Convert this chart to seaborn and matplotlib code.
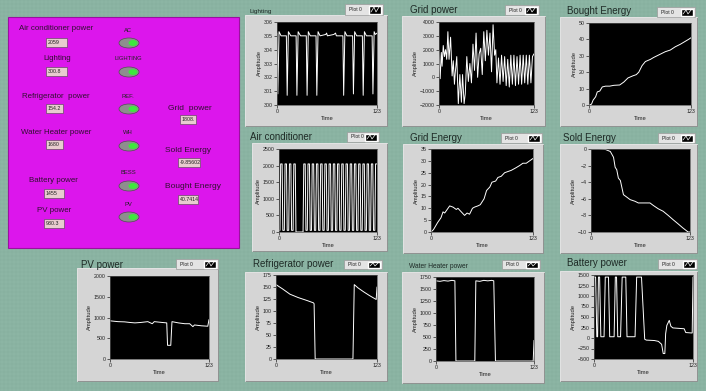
import matplotlib
matplotlib.use('Agg')
import matplotlib.pyplot as plt
import seaborn as sns
from matplotlib.patches import Rectangle, Ellipse
from matplotlib.lines import Line2D

sns.set_style("ticks")
plt.rcParams['font.family'] = ['Liberation Sans', 'DejaVu Sans']

W, H = 706, 391

# ---- data (time, amplitude) ----
lighting_t = [0, 1, 2.5, 5, 11.5, 12.5, 14, 17, 23.5, 24.5, 26, 29, 36, 37, 38.5, 41, 48, 49,
              50.5, 53, 60, 61, 62, 70, 72, 73, 81, 82, 83.5, 86, 93, 94, 95.5, 98, 105, 106,
              107.5, 110, 117, 118, 119.5, 121, 123]
lighting_v = [305.2, 300.8, 305.3, 305.0, 305.0, 300.7, 305.3, 305.0, 305.0, 300.7, 305.3, 305.0,
              305.0, 300.7, 305.3, 305.0, 305.0, 300.7, 305.3, 305.0, 305.1, 305.2, 305.0, 305.1,
              305.2, 305.0, 305.0, 300.7, 305.3, 305.0, 305.0, 300.8, 305.3, 305.0, 305.0, 300.7,
              305.3, 305.0, 305.0, 300.8, 305.3, 305.1, 305.2]

grid_t = [0, 1.5, 3, 4, 5.5, 7, 8.5, 10, 11.5, 13, 15, 17, 18.5, 20, 21, 23, 25, 27, 29, 30.5,
          32.5, 34, 36, 38, 40, 42, 44, 46, 48, 50, 52, 54, 56, 58, 60, 62, 64, 66, 68, 70, 72,
          73.5, 75, 77, 79, 81, 83, 85, 87, 89, 91, 93, 95, 97, 99, 101, 103, 105, 107, 109,
          111, 113, 115, 117, 119, 121, 123]
grid_v = [1900, -100, 1800, 800, 2300, 1500, 2000, 1300, 3300, 1300, 2900, 100, 1200, -500, 300,
          1500, -1900, 200, -1800, 200, -1900, -1200, 1500, -300, 1000, -400, 2400, 500, 3200, 0,
          1700, 2100, 200, 3300, 1200, 3400, 1600, 3200, 400, 3800, 1600, 2000, -400, 1400, -500,
          1600, -300, 1500, -600, 1300, -700, 1600, -500, 1600, -600, 1500, -500, 1600, -500,
          1600, -400, 1600, -500, 1600, -400, 1500, 1700]

bought_t = [0, 3, 5, 8, 10, 13, 16, 20, 25, 30, 37, 42, 47, 53, 57, 60, 64, 68, 74, 78, 82, 86,
            92, 98, 104, 110, 115, 120, 123]
bought_v = [0, 0.5, 3, 5, 8, 8.5, 11, 11.5, 11.5, 12, 12.2, 14, 16.5, 17.8, 18.5, 20, 24, 26.5,
            27.8, 29, 30, 31, 32.5, 33.5, 35.5, 37, 38.5, 40, 41]

ac_t = [0, 1.2, 2.1, 3.9, 4.8, 6.7, 7.6, 9.4, 10.3, 12.2, 13.1, 14.9, 15.8, 17.7, 18.6, 20.4,
        21.3, 30.2, 31.1, 32.9, 33.8, 35.5, 36.4, 38.2, 39.1, 40.8, 41.7, 43.5, 44.4, 46.1, 47.0,
        48.8, 49.7, 51.4, 52.3, 54.1, 55.0, 56.7, 57.6, 59.4, 60.3, 62.0, 62.9, 64.7, 65.6, 67.3,
        68.2, 70.0, 70.9, 72.6, 73.5, 75.3, 76.2, 77.9, 78.8, 80.6, 81.5, 83.2, 84.1, 85.9, 86.8,
        88.5, 89.4, 91.2, 92.1, 93.8, 94.7, 96.5, 97.4, 99.1, 100.0, 101.8, 102.7, 104.4, 105.3,
        107.1, 108.0, 109.7, 110.6, 112.4, 113.3, 115.0, 115.9, 117.7, 118.6, 120.3, 121.2, 123]
ac_v = [50, 50, 2050, 2050, 50, 50, 2050, 2050, 50, 50, 2050, 2050, 50, 50, 2050, 2050,
        0, 0, 2050, 2050, 50, 50, 2050, 2050, 50, 50, 2050, 2050, 50, 50, 2050,
        2050, 50, 50, 2050, 2050, 50, 50, 2050, 2050, 50, 50, 2050, 2050, 50, 50,
        2050, 2050, 50, 50, 2050, 2050, 50, 50, 2050, 2050, 50, 50, 2050, 2050, 50,
        50, 2050, 2050, 50, 50, 2050, 2050, 50, 50, 2050, 2050, 50, 50, 2050,
        2050, 50, 50, 2050, 2050, 50, 50, 2050, 2050, 50, 50, 2050, 2050]

genergy_t = [0, 3, 8, 12, 14.5, 16.5, 22.5, 26.5, 30.5, 32.5, 36.5, 40.5, 43.5, 46.5, 50, 52.5,
             56.5, 59.4, 64, 67, 71, 73.5, 78, 80.7, 84.7, 88.8, 92.8, 96.8, 102, 106.8, 110.8,
             114.9, 118.9, 123]
genergy_v = [0, 1, 4, 6, 8.5, 8, 11, 10.5, 9.5, 10, 8.5, 7, 8, 7.5, 10, 10.5, 11, 11.5, 14,
             17.5, 19, 21, 21.5, 23, 23.5, 25, 25.5, 26, 27, 28, 29, 29, 30, 31]

sold_t = [0, 10, 17.7, 24, 28, 30, 32, 34, 36.5, 40.3, 44.5, 48.6, 54.7, 58.8, 73.3, 77.4,
          83.5, 89.6, 95.9, 101.8, 108, 114, 120.6, 123]
sold_v = [0, 0, -0.05, -0.3, -1, -2.2, -2.5, -3.5, -3.8, -5.5, -5.8, -6.1, -6.3, -6.5, -6.5,
          -6.8, -7.2, -7.5, -8, -8.5, -9, -9.5, -10, -10]

pv_t = [0, 10, 18, 25, 31, 38, 47, 52.5, 55, 65, 70.5, 71.5, 75.5, 77, 85, 93, 99, 103, 105,
        113.6, 121.5, 123]
pv_v = [920, 900, 895, 880, 870, 880, 900, 850, 900, 880, 870, 330, 330, 900, 870, 850, 850,
        780, 820, 800, 790, 950]

fridge_t = [0, 8, 17, 27, 37.5, 45.6, 46.4, 47.7, 93.7, 95.3, 100, 106.7, 114, 121, 122, 123]
fridge_v = [155, 146, 135, 128, 122, 117, 115, 0, 0, 155, 148, 140, 132, 125, 124, 150]

heater_t = [0, 5, 10, 15, 20, 23.7, 25, 48.7, 50, 55, 60, 65, 70, 72.5, 74.6, 122, 123]
heater_v = [1670, 1660, 1675, 1665, 1680, 1670, 0, 0, 1670, 1660, 1680, 1670, 1680, 1670, 0, 0, 430]

battery_t = [0, 2, 3.5, 4.5, 5.5, 7, 8.5, 12.5, 14, 18, 19.5, 25, 26.5, 28, 29.5, 33, 35,
             39.5, 41, 51, 53, 59, 63, 65, 75, 80, 84, 86, 88, 89, 90.5, 93.5, 95.5, 98, 105,
             112, 114, 121, 122, 123]
battery_v = [1450, 1450, 30, 30, 1450, 1450, 30, 30, 1450, 1450, 30, 30, 1450, 1450, 30, 30,
             1450, 1450, 30, 30, 1450, 1450, -30, -50, -60, -80, -150, -370, -370, 100, 300,
             420, 280, 240, 230, 220, 130, 120, 120, 1450]

# ---- left control panel readouts ----
readout_labels = ["Air conditioner power", "Lighting", "Refrigerator  power",
                  "Water Heater power", "Battery power", "PV power"]
readout_values = ["2059", "300.8", "154.2", "1680", "1455", "930.3"]
led_labels = ["AC", "LIGHTING", "REF.", "WH", "BESS", "PV"]
grid_labels = ["Grid  power", "Sold Energy", "Bought Energy"]
grid_values = ["1808.", "-9.85602", "40.7414"]

# ---- layout (pixels) ----
BG = '#8cb5a4'
MAGENTA = '#dc16ec'
FRAME = '#d5d5d5'

panels = [
    # title, title xy, title size, frame, plot rect, legend box, yticks, t, v
    ("Lighting", (250, 12), 4.6, (245, 15, 387, 126), (277, 22, 377, 105), (345, 4, 383, 15),
     [300, 301, 302, 303, 304, 305, 306], lighting_t, lighting_v),
    ("Grid power", (410, 10), 7.0, (402, 16, 545, 126), (439, 22, 534, 105), (505, 5, 539, 15),
     [-2000, -1000, 0, 1000, 2000, 3000, 4000], grid_t, grid_v),
    ("Bought Energy", (567, 11), 7.0, (560, 17, 697, 126), (589, 23, 691, 105), (657, 7, 695, 17),
     [0, 10, 20, 30, 40, 50], bought_t, bought_v),
    ("Air conditioner", (250, 137), 7.0, (252, 143, 387, 251), (279, 149, 377, 232), (347, 132, 379, 142),
     [0, 500, 1000, 1500, 2000, 2500], ac_t, ac_v),
    ("Grid Energy", (410, 138), 7.0, (403, 144, 543, 253), (431, 149, 533, 232), (501, 133, 542, 143),
     [0, 5, 10, 15, 20, 25, 30, 35], genergy_t, genergy_v),
    ("Sold Energy", (563, 138), 7.0, (560, 144, 697, 253), (591, 149, 690, 232), (658, 133, 695, 143),
     [-10, -8, -6, -4, -2, 0], sold_t, sold_v),
    ("PV power", (81, 265), 7.0, (77, 268, 218, 381), (110, 276, 209, 359), (176, 259, 218, 269),
     [0, 500, 1000, 1500, 2000], pv_t, pv_v),
    ("Refrigerator power", (253, 264), 7.0, (245, 272, 387, 381), (276, 275, 377, 359), (344, 260, 382, 269),
     [0, 25, 50, 75, 100, 125, 150, 175], fridge_t, fridge_v),
    ("Water Heater power", (409, 266), 4.8, (402, 272, 544, 383), (436, 277, 534, 361), (502, 260, 540, 269),
     [0, 250, 500, 750, 1000, 1250, 1500, 1750], heater_t, heater_v),
    ("Battery power", (567, 263), 7.0, (560, 271, 697, 381), (594, 275, 693, 359), (658, 259, 697, 269),
     [-500, -250, 0, 250, 500, 750, 1000, 1250, 1500], battery_t, battery_v),
]

fig = plt.figure(figsize=(W / 100, H / 100), dpi=100)
fig.patch.set_facecolor(BG)

bg = fig.add_axes([0, 0, 1, 1])
bg.set_xlim(0, W)
bg.set_ylim(H, 0)
bg.axis('off')
bg.set_zorder(0)

# faint panel grid texture
for gx in range(0, W, 4):
    bg.axvline(gx, color='#7fa898', lw=0.35, alpha=0.5, zorder=0)
for gy in range(0, H, 4):
    bg.axhline(gy, color='#7fa898', lw=0.35, alpha=0.5, zorder=0)

# magenta control panel
bg.add_patch(Rectangle((8, 17), 231, 231, facecolor=MAGENTA, edgecolor='#9a109f', lw=0.8, zorder=1))


def readout(cx, cy, w, h, txt):
    bg.add_patch(Rectangle((cx, cy), w, h, facecolor='#e8cccf', edgecolor='#6a4a6a', lw=0.5, zorder=2))
    bg.text(cx + 2, cy + h / 2, txt, fontsize=3.8, va='center', ha='left', color='#222222', zorder=3)


def led(cx, cy, label, ly):
    bg.text(cx - 1, ly, label, fontsize=4.2, ha='center', va='center', color='#222222', zorder=3)
    bg.add_patch(Ellipse((cx, cy), 20, 10, facecolor='#8e8e8e', edgecolor='#505050', lw=0.5, zorder=2))
    bg.add_patch(Ellipse((cx + 4, cy), 9, 6, facecolor='#3ee83e', edgecolor='none', zorder=3))


label_pos = [(56, 29), (57, 59), (56, 96), (56, 132), (53, 180), (54, 211)]
box_pos = [(46, 38, 21), (46, 67, 21), (46, 104, 17), (46, 140, 17), (44, 189, 20), (44, 219, 20)]
led_pos = [(129, 43, 30), (129, 72, 58), (129, 109, 97), (129, 146, 133), (129, 186, 173), (129, 217, 204)]
for lab, val, (lx, ly), (bx, by, bw), (ex, ey, ely), ltxt in zip(
        readout_labels, readout_values, label_pos, box_pos, led_pos, led_labels):
    bg.text(lx, ly, lab, fontsize=5.7, ha='center', va='center', color='#301030', zorder=3)
    readout(bx, by, bw, 9, val)
    led(ex, ey, ltxt, ely)

for lab, val, (lx, ly), (bx, by, bw) in zip(
        grid_labels, grid_values, [(190, 108), (188, 150), (193, 187)],
        [(180, 115, 16), (178, 158, 22), (178, 195, 20)]):
    bg.text(lx, ly, lab, fontsize=6.0, ha='center', va='center', color='#301030', zorder=3)
    readout(bx, by, bw, 9, val)

for title, (tx, ty), tfs, fr, pr, lg, yt, t, v in panels:
    fx1, fy1, fx2, fy2 = fr
    bg.add_patch(Rectangle((fx1, fy1), fx2 - fx1, fy2 - fy1, facecolor=FRAME,
                           edgecolor='#8a8a8a', lw=0.6, zorder=2))
    bg.plot([fx1, fx1, fx2], [fy2, fy1, fy1], color='#f2f2f2', lw=0.6, zorder=2)
    bg.text(tx, ty, title, fontsize=tfs, ha='left', va='center', color='#1e2a26', zorder=3)
    # legend box "Plot 0"
    lx1, ly1, lx2, ly2 = lg
    bg.add_patch(Rectangle((lx1, ly1), lx2 - lx1, ly2 - ly1, facecolor='#e4e4e4',
                           edgecolor='#9a9a9a', lw=0.5, zorder=2))
    bg.text(lx1 + 4, (ly1 + ly2) / 2, "Plot 0", fontsize=3.6, ha='left', va='center',
            color='#222222', zorder=3)
    sx = lx2 - 14
    bg.add_patch(Rectangle((sx, ly1 + 1.5), 12, ly2 - ly1 - 3, facecolor='black', zorder=3))
    bg.add_line(Line2D([sx + 2, sx + 5, sx + 7, sx + 10],
                       [ly2 - 3, ly1 + 3, ly2 - 3, ly1 + 3], color='white', lw=0.5, zorder=4))

    x1, y1, x2, y2 = pr
    ax = fig.add_axes([x1 / W, 1 - y2 / H, (x2 - x1) / W, (y2 - y1) / H])
    ax.set_zorder(3)
    ax.set_facecolor('black')
    sns.lineplot(x=t, y=v, ax=ax, color='white', linewidth=0.7, estimator=None, sort=False)
    ax.set_xlim(0, 123)
    ax.set_ylim(yt[0], yt[-1])
    ax.set_xticks([0, 123])
    ax.set_yticks(yt)
    ax.tick_params(direction='out', length=2, width=0.5, labelsize=3.8, pad=1, colors='#222222')
    for s in ax.spines.values():
        s.set_color('#555555')
        s.set_linewidth(0.5)
    ax.set_xlabel("Time", fontsize=4.2, labelpad=1.5, color='#222222')
    ax.set_ylabel("Amplitude", fontsize=4.2, labelpad=1.5, color='#222222')

fig.savefig('out.png', dpi=100, facecolor=fig.get_facecolor())
